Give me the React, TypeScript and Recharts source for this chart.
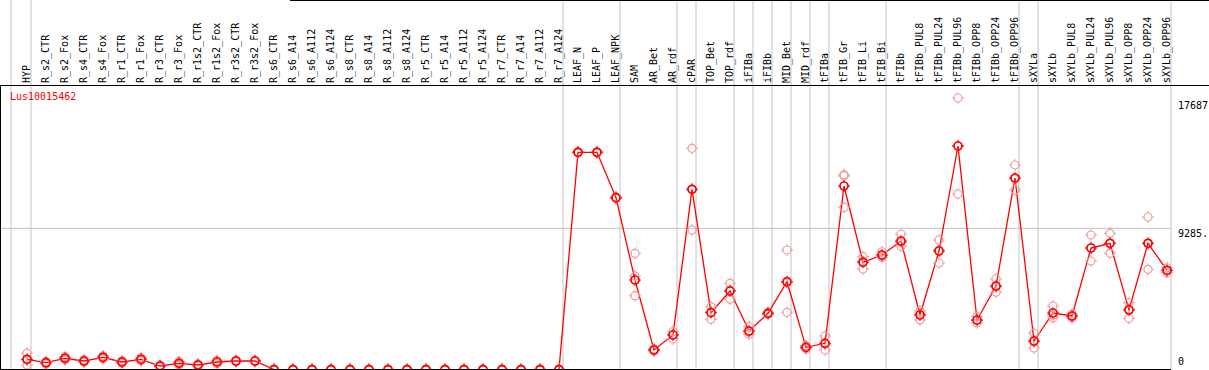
import React from "react";
import { ComposedChart, Line, XAxis, YAxis, ReferenceLine } from "recharts";

const categories = [
  "HYP", "R_s2_CTR", "R_s2_Fox", "R_s4_CTR", "R_s4_Fox", "R_r1_CTR", "R_r1_Fox", "R_r3_CTR", "R_r3_Fox",
  "R_r1s2_CTR", "R_r1s2_Fox", "R_r3s2_CTR", "R_r3s2_Fox",
  "R_s6_CTR", "R_s6_A14", "R_s6_A112", "R_s6_A124", "R_s8_CTR", "R_s8_A14", "R_s8_A112", "R_s8_A124",
  "R_r5_CTR", "R_r5_A14", "R_r5_A112", "R_r5_A124", "R_r7_CTR", "R_r7_A14", "R_r7_A112", "R_r7_A124",
  "LEAF_N", "LEAF_P", "LEAF_NPK", "SAM", "AR_Bet", "AR_rdf", "cPAR", "TOP_Bet", "TOP_rdf",
  "iFIBa", "iFIBb", "MID_Bet", "MID_rdf", "tFIBa", "tFIB_Gr", "tFIB_Li", "tFIB_Bi", "tFIBb",
  "tFIBb_PUL8", "tFIBb_PUL24", "tFIBb_PUL96", "tFIBb_OPP8", "tFIBb_OPP24", "tFIBb_OPP96",
  "sXYLa", "sXYLb", "sXYLb_PUL8", "sXYLb_PUL24", "sXYLb_PUL96", "sXYLb_OPP8", "sXYLb_OPP24", "sXYLb_OPP96",
];

// mean expression per sample
const means = [
  701, 478, 767, 590, 832, 524, 701, 262, 439, 328, 524, 590, 590,
  30, 30, 30, 30, 30, 30, 30, 30, 30, 30, 30, 30, 30, 30, 30, 30,
  14265, 14265, 11290, 5897, 1311, 2293, 11841, 3757, 5177,
  2556, 3715, 5786, 1487, 1749, 12057, 7057, 7535, 8453,
  3604, 7797, 14678, 3276, 5504, 12581,
  1900, 3735, 3538, 7994, 8302, 3932, 8302, 6533,
];

// replicate values
const rep1 = [
  1094, 560, 880, 660, 930, 600, 820, 330, 560, 390, 640, 640, 630,
  0, 60, 0, 60, 0, 60, 0, 60, 0, 60, 0, 60, 0, 60, 0, 60,
  14300, 14300, 11330, 7647, 1380, 2510, 14527, 4148, 5681,
  2837, 3780, 7863, 1600, 2228, 12712, 7424, 7750, 8911,
  3870, 8518, 17823, 3080, 5963, 13433,
  2424, 4194, 3670, 8846, 8957, 4410, 10026, 6700,
];
const rep2 = [
  328, 400, 650, 520, 740, 450, 590, 200, 320, 270, 410, 540, 550,
  60, 0, 60, 0, 60, 0, 60, 0, 60, 0, 60, 0, 60, 0, 60, 0,
  14230, 14230, 11250, 6159, 1250, 2031, 9174, 3322, 4633,
  2339, 3650, 3781, 1380, 1311, 10661, 6618, 7380, 8100,
  3280, 7010, 11533, 3500, 5100, 11795,
  1442, 3420, 3410, 7142, 7647, 3388, 6598, 6380,
];
const rep3 = [
  680, 470, 770, 590, 830, 520, 700, 260, 440, 330, 520, 590, 590,
  30, 30, 30, 30, 30, 30, 30, 30, 30, 30, 30, 30, 30, 30, 30, 30,
  14265, 14265, 11290, 4869, 1311, 2330, 11822, 3800, 5217,
  2490, 3715, 5714, 1480, 1708, 12798, 7130, 7475, 8350,
  3660, 7860, 14678, 3250, 5450, 12515,
  1834, 3590, 3540, 7994, 8300, 3998, 8282, 6520,
];

// samples followed by a grey separator line
const groupEnds = [
  "HYP", "R_r7_A124", "LEAF_NPK", "AR_rdf", "cPAR", "TOP_rdf", "iFIBa", "iFIBb",
  "MID_Bet", "MID_rdf", "tFIBa", "tFIB_Bi", "tFIBb_OPP96", "sXYLa", "sXYLb_OPP96",
];

const yTicks = [0, 9285, 17687];
const yTickLabels = ["0", "9285.", "17687"];
const geneName = "Lus10015462";

const data = categories.map((name, i) => ({
  name,
  mean: means[i],
  r1: rep1[i],
  r2: rep2[i],
  r3: rep3[i],
}));

const FONT = "'DejaVu Sans Mono', monospace";

function Ring({ cx, cy, color, width }: any) {
  if (cx == null || cy == null) return <g />;
  return (
    <g>
      <circle cx={cx} cy={cy} r={4} fill="none" stroke={color} strokeWidth={width} />
      <line x1={cx} x2={cx} y1={cy - 6} y2={cy - 4} stroke={color} strokeWidth={1} />
      <line x1={cx} x2={cx} y1={cy + 4} y2={cy + 6} stroke={color} strokeWidth={1} />
      <line x1={cx - 6} x2={cx - 4} y1={cy} y2={cy} stroke={color} strokeWidth={1} />
      <line x1={cx + 4} x2={cx + 6} y1={cy} y2={cy} stroke={color} strokeWidth={1} />
    </g>
  );
}

const repDot = (props: any) => <Ring key={props.index} cx={props.cx} cy={props.cy} color="#f09a9a" width={1.2} />;
const meanDot = (props: any) => <Ring key={props.index} cx={props.cx} cy={props.cy} color="#ff0000" width={1.7} />;

function SampleTick({ x, payload }: any) {
  const bx = Math.round(x) + 3;
  return (
    <text x={bx} y={83} transform={`rotate(-90 ${bx} 83)`} fontFamily={FONT} fontSize={10} fill="#000">
      {payload.value}
    </text>
  );
}

function ValueTick({ y, payload }: any) {
  const i = yTicks.indexOf(payload.value);
  const dy = payload.value === 0 ? -5 : 9;
  return (
    <text x={1178} y={y + dy} fontFamily={FONT} fontSize={10} fill="#000">
      {i >= 0 ? yTickLabels[i] : String(payload.value)}
    </text>
  );
}

const separator = (offset: number) => (p: any) =>
  <line x1={p.x1 + offset} x2={p.x2 + offset} y1={0} y2={370} stroke="#c4c4c4" strokeWidth={1} />;

export default function App() {
  return (
    <div style={{ position: "absolute", left: 0, top: 0, width: 1209, height: 370, background: "#fff", overflow: "hidden" }}>
      <ComposedChart width={1209} height={370} data={data} margin={{ top: 0, right: 0, bottom: 0, left: 0 }}>
        <XAxis
          dataKey="name"
          orientation="top"
          height={85}
          interval={0}
          padding={{ left: 27, right: 4 }}
          axisLine={false}
          tickLine={false}
          tick={<SampleTick />}
        />
        <YAxis
          orientation="right"
          width={38}
          domain={[0, 18675]}
          ticks={yTicks}
          interval={0}
          axisLine={false}
          tickLine={false}
          tick={<ValueTick />}
        />
        <ReferenceLine x="HYP" shape={separator(-16)} />
        {groupEnds.map((g) => (
          <ReferenceLine key={g} x={g} shape={separator(4)} />
        ))}
        <ReferenceLine y={9285} stroke="#c4c4c4" strokeWidth={1} />
        <Line dataKey="r1" stroke="none" dot={repDot} isAnimationActive={false} />
        <Line dataKey="r2" stroke="none" dot={repDot} isAnimationActive={false} />
        <Line dataKey="r3" stroke="none" dot={repDot} isAnimationActive={false} />
        <Line type="linear" dataKey="mean" stroke="#ff0000" strokeWidth={1.3} dot={meanDot} isAnimationActive={false} />
      </ComposedChart>
      {/* frame lines */}
      <div style={{ position: "absolute", left: 290, top: 0, width: 919, height: 1, background: "#000" }} />
      <div style={{ position: "absolute", left: 0, top: 85, width: 1209, height: 1, background: "#000" }} />
      <div style={{ position: "absolute", left: 0, top: 85, width: 1, height: 285, background: "#000" }} />
      <div style={{ position: "absolute", left: 0, top: 369, width: 1171, height: 1, background: "#000" }} />
      <div style={{ position: "absolute", left: 10, top: 92, fontFamily: FONT, fontSize: 10, lineHeight: "10px", color: "#ff0000" }}>
        {geneName}
      </div>
    </div>
  );
}
